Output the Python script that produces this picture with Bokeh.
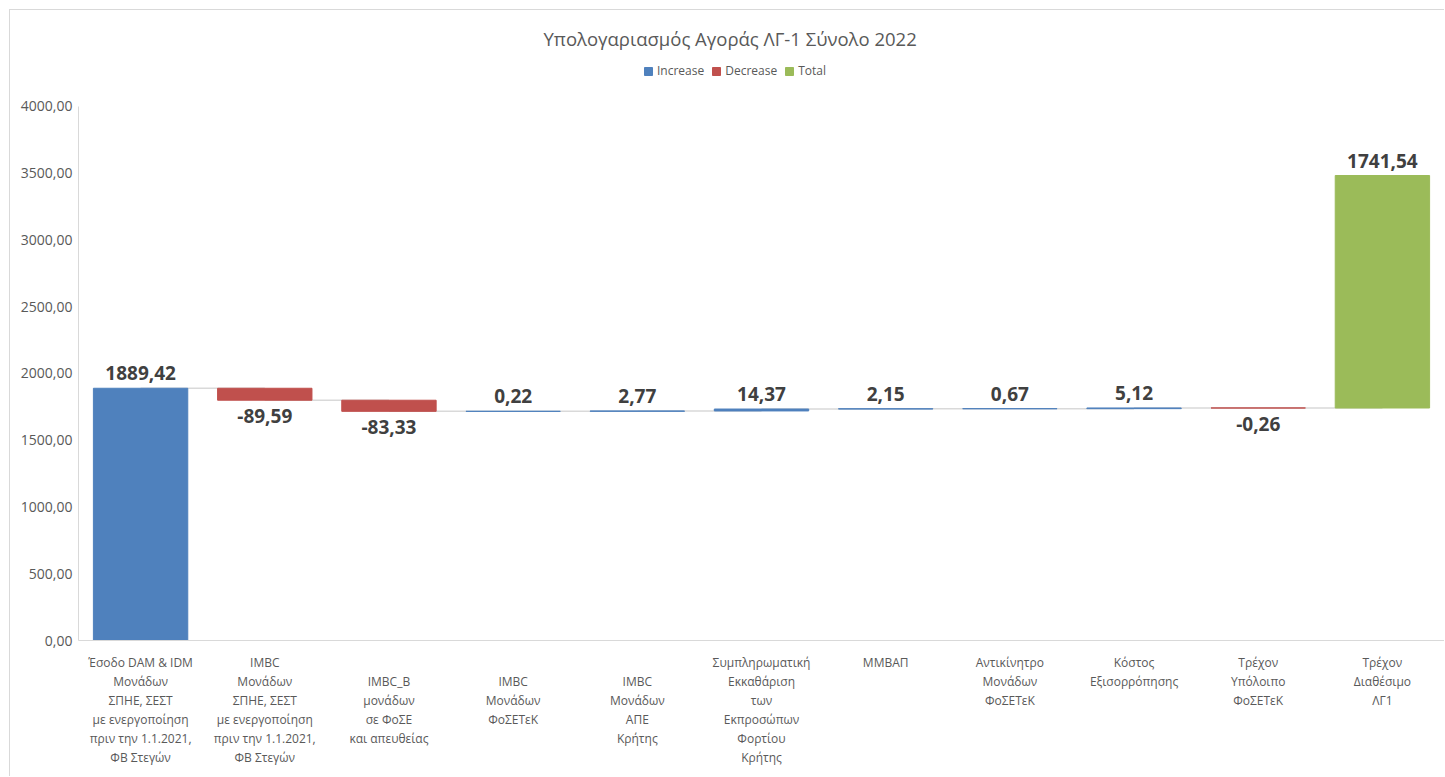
from bokeh.plotting import figure
from bokeh.models import (ColumnDataSource, FixedTicker, Legend, LegendItem, Range1d,
                          FactorRange)
from bokeh.core.properties import value
from bokeh.embed import file_html
from bokeh.resources import INLINE

title_text = "Υπολογαριασμός Αγοράς ΛΓ-1 Σύνολο 2022"

categories = [
    "Έσοδο DAM & IDM\nΜονάδων\nΣΠΗΕ, ΣΕΣΤ\nμε ενεργοποίηση\nπριν την 1.1.2021,\nΦΒ Στεγών",
    "IMBC\nΜονάδων\nΣΠΗΕ, ΣΕΣΤ\nμε ενεργοποίηση\nπριν την 1.1.2021,\nΦΒ Στεγών",
    "\nIMBC_B\nμονάδων\nσε ΦοΣΕ\nκαι απευθείας",
    "\nIMBC\nΜονάδων\nΦοΣΕΤεΚ",
    "\nIMBC\nΜονάδων\nΑΠΕ\nΚρήτης",
    "Συμπληρωματική\nΕκκαθάριση\nτων\nΕκπροσώπων\nΦορτίου\nΚρήτης",
    "ΜΜΒΑΠ",
    "Αντικίνητρο\nΜονάδων\nΦοΣΕΤεΚ",
    "Κόστος\nΕξισορρόπησης",
    "Τρέχον\nΥπόλοιπο\nΦοΣΕΤεΚ",
    "Τρέχον\nΔιαθέσιμο\nΛΓ1",
]
values = [1889.42, -89.59, -83.33, 0.22, 2.77, 14.37, 2.15, 0.67, 5.12, -0.26, 1741.54]
kinds = ["Increase", "Decrease", "Decrease", "Increase", "Increase", "Increase",
         "Increase", "Increase", "Increase", "Decrease", "Total"]
legend_order = ["Increase", "Decrease", "Total"]
kind_colors = {"Increase": "#4f81bd", "Decrease": "#c0504d", "Total": "#9bbb59"}
y_ticks = [0, 500, 1000, 1500, 2000, 2500, 3000, 3500, 4000]

# waterfall geometry (Excel-style: every column stacked on the running total)
bottoms, tops = [], []
running = 0.0
for v in values:
    bottoms.append(running)
    running = running + v
    tops.append(running)

label_y = [max(b, t) if v >= 0 else min(b, t) for b, t, v in zip(bottoms, tops, values)]
label_off = [-15 if v >= 0 else 16 for v in values]
labels = [f"{v:.2f}".replace(".", ",") for v in values]

src = ColumnDataSource(dict(
    x=categories, bottom=bottoms, top=tops, kind=kinds,
    color=[kind_colors[k] for k in kinds],
    ly=label_y, loff=label_off, lab=labels,
))

conn = ColumnDataSource(dict(
    x0=categories[:-1], x1=categories[1:], y=tops[:-1],
))

FONT = "Open Sans"

p = figure(
    x_range=FactorRange(*categories),
    y_range=Range1d(0, 4382),
    width=1444, height=776,
    output_backend="svg", toolbar_location=None,
    min_border_left=78, min_border_right=0, min_border_bottom=136, min_border_top=55,
)
p.outline_line_color = None
p.background_fill_color = "white"
p.border_fill_color = None
# light chart-area border (top and left edges), as in the reference
p.styles = {
    "background-color": "white",
    "background-image": "linear-gradient(#d9d9d9, #d9d9d9), linear-gradient(#d9d9d9, #d9d9d9)",
    "background-size": "calc(100% - 9px) 1px, 1px calc(100% - 9px)",
    "background-position": "9px 9px, 9px 9px",
    "background-repeat": "no-repeat",
}

p.title.text = title_text
p.title.align = "left"
p.title.offset = 465
p.title.text_font = FONT
p.title.text_font_size = "18.5px"
p.title.text_font_style = "normal"
p.title.text_color = "#595959"
p.title.standoff = 10

# connectors
p.segment(x0="x0", x1="x1", y0="y", y1="y", source=conn, line_color="#d9d9d9", line_width=1.5)

r = p.vbar(x="x", bottom="bottom", top="top", width=0.76, source=src,
           fill_color="color", line_color="color", line_width=1)

p.text(x="x", y="ly", text="lab", source=src, y_offset="loff",
       text_align="center", text_baseline="middle",
       text_font=value(FONT), text_font_size="19px", text_font_style="bold",
       text_color="#404040")

# legend (inside the top strip of the frame, above the 4000 line)
items = [LegendItem(label=k, renderers=[r], index=kinds.index(k)) for k in legend_order]
leg = Legend(items=items, orientation="horizontal", location=(565, 561))
leg.label_text_font = FONT
leg.label_text_font_size = "12px"
leg.label_text_color = "#595959"
leg.glyph_width = 10
leg.glyph_height = 10
leg.label_standoff = 4
leg.spacing = 7
leg.padding = 2
leg.margin = 0
leg.label_height = 12
leg.border_line_color = None
leg.background_fill_alpha = 0
p.add_layout(leg, "center")

# axes
p.xgrid.grid_line_color = None
p.ygrid.grid_line_color = None

p.yaxis.ticker = FixedTicker(ticks=y_ticks)
p.yaxis.bounds = (0, 4000)
p.yaxis.major_label_overrides = {t: f"{t:.2f}".replace(".", ",") for t in y_ticks}
p.yaxis.major_label_text_font = FONT
p.yaxis.major_label_text_font_size = "14px"
p.yaxis.major_label_text_color = "#595959"
p.yaxis.axis_line_color = "#d9d9d9"
p.yaxis.major_tick_line_color = None
p.yaxis.minor_tick_line_color = None
p.yaxis.major_tick_out = 0
p.yaxis.major_tick_in = 0
p.yaxis.major_label_standoff = 6

p.xaxis.major_label_text_font = FONT
p.xaxis.major_label_text_font_size = "12px"
p.xaxis.major_label_text_color = "#595959"
p.xaxis.major_label_text_line_height = 1.12
p.xaxis.axis_line_color = "#d9d9d9"
p.xaxis.major_tick_line_color = None
p.xaxis.minor_tick_line_color = None
p.xaxis.major_tick_out = 0
p.xaxis.major_tick_in = 0
p.xaxis.major_label_standoff = 13

open("out.html", "w").write(file_html(p, INLINE))
